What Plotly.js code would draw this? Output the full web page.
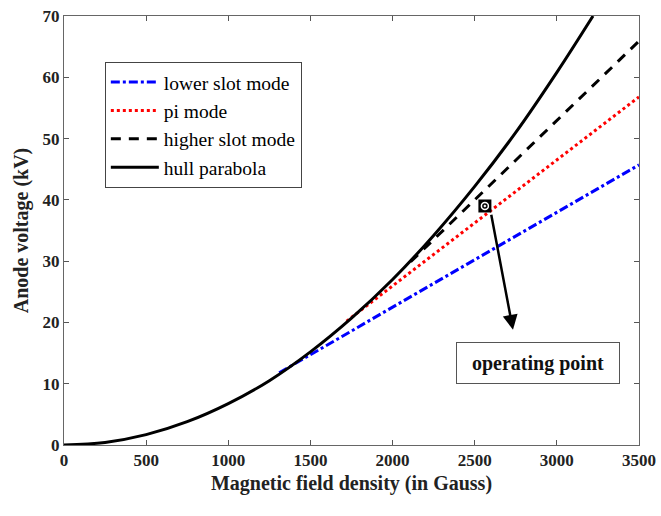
<!DOCTYPE html>
<html>
<head>
<meta charset="utf-8">
<script src="https://cdn.plot.ly/plotly-3.0.1.min.js"></script>
<style>html,body{margin:0;padding:0;background:#fff}#chart{width:661px;height:516px}</style>
</head>
<body>
<div id="chart"></div>
<script>
// Hull parabola
const hullB = [0, 250, 500, 750, 1000, 1250, 1500, 1750, 2000, 2250, 2500, 2750, 3000, 3220];
const hullV = [0, 0.42, 1.69, 3.8, 6.75, 10.5, 15.2, 20.7, 27.0, 34.2, 42.2, 51.0, 60.8, 70];
// Mode lines
const lowerB = [1310, 3500];
const lowerV = [11.8, 45.7];
const piB = [1720, 3500];
const piV = [20.2, 56.8];
const higherB = [2110, 3500];
const higherV = [29.9, 65.9];
// Operating point
const opB = [2562];
const opV = [39.0];
const arrowTail = [2599, 37.8];
const arrowTip = [2733, 18.8];
const boxPos = [2885, 13.4];

const serif = "Liberation Serif";

const traces = [
  {x: lowerB, y: lowerV, mode: 'lines', name: 'lower slot mode',
   line: {color: '#0000ff', width: 3, dash: 'dashdot'}},
  {x: piB, y: piV, mode: 'lines', name: 'pi mode',
   line: {color: '#ff0000', width: 3, dash: 'dot'}},
  {x: higherB, y: higherV, mode: 'lines', name: 'higher slot mode',
   line: {color: '#000000', width: 3, dash: '10px,8px'}},
  {x: hullB, y: hullV, mode: 'lines', name: 'hull parabola', line: {color: '#000000', width: 3, shape: 'spline'}},
  {x: opB, y: opV, mode: 'markers', showlegend: false,
   marker: {symbol: 'square', size: 13, color: '#000'}},
  {x: opB, y: opV, mode: 'markers', showlegend: false,
   marker: {symbol: 'circle-open-dot', size: 7, color: '#fff', line: {color: '#fff', width: 1.5}}}
];

const layout = {
  width: 661, height: 516,
  margin: {l: 64, r: 22, t: 16, b: 71},
  paper_bgcolor: '#fff', plot_bgcolor: '#fff',
  font: {family: serif},
  showlegend: true,
  legend: {x: 0.071, y: 0.893, xanchor: 'left', yanchor: 'top',
    bgcolor: '#fff', bordercolor: '#444', borderwidth: 1, itemwidth: 48,
    font: {family: serif, size: 19.5, color: '#000'}, tracegroupgap: 0},
  xaxis: {range: [0, 3500], tickvals: [0, 500, 1000, 1500, 2000, 2500, 3000, 3500],
    ticks: 'inside', ticklen: 5, tickcolor: '#555', showline: true, linecolor: '#666', linewidth: 1,
    mirror: 'ticks', showgrid: false, zeroline: false,
    tickfont: {family: serif, size: 17, color: '#222', weight: 'bold'},
    title: {text: '<b>Magnetic field density (in Gauss)</b>', font: {family: serif, size: 20, color: '#222'}, standoff: 6}},
  yaxis: {range: [0, 70], tickvals: [0, 10, 20, 30, 40, 50, 60, 70],
    ticks: 'inside', ticklen: 5, tickcolor: '#555', showline: true, linecolor: '#666', linewidth: 1,
    mirror: 'ticks', showgrid: false, zeroline: false,
    tickfont: {family: serif, size: 17, color: '#222', weight: 'bold'},
    title: {text: '<b>Anode voltage (kV)</b>', font: {family: serif, size: 20, color: '#222'}, standoff: 8}},
  annotations: [
    {x: arrowTip[0], y: arrowTip[1], ax: arrowTail[0], ay: arrowTail[1], axref: 'x', ayref: 'y',
     xref: 'x', yref: 'y', text: '', showarrow: true, arrowhead: 2, arrowsize: 1.2, arrowwidth: 2.5, arrowcolor: '#000'},
    {x: boxPos[0], y: boxPos[1], xref: 'x', yref: 'y', text: '<b>operating point</b>', showarrow: false,
     font: {family: serif, size: 20, color: '#111'}, bordercolor: '#555', borderwidth: 1, bgcolor: '#fff',
     width: 160, height: 38, align: 'center'}
  ]
};

Plotly.newPlot('chart', traces, layout, {displayModeBar: false, staticPlot: true});
</script>
</body>
</html>
